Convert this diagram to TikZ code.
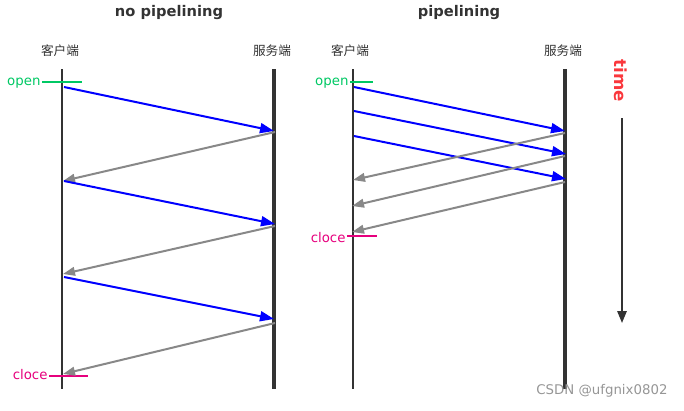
\documentclass[tikz,border=0pt]{standalone}
\usepackage{fontspec}
\setmainfont{DejaVu Sans}
\newfontfamily\cjk{Noto Sans CJK SC}
\usepackage{tikz}
\usetikzlibrary{arrows.meta, calc}
\usepackage{xcolor}
\definecolor{lifegray}{RGB}{51,51,51}
\definecolor{reqblue}{RGB}{0,0,255}
\definecolor{respgray}{RGB}{136,136,136}
\definecolor{opengreen}{RGB}{0,200,100}
\definecolor{closepink}{RGB}{230,0,125}
\definecolor{timered}{RGB}{250,55,60}
\definecolor{markgray}{RGB}{150,150,150}
\tikzset{every picture/.style={line width=0.75pt}}
\tikzset{
  title/.style={text=lifegray, font=\fontsize{11}{13}\selectfont\bfseries, inner sep=0.75pt},
  side/.style={text=lifegray, font=\fontsize{9.5}{11}\selectfont\cjk, inner sep=0.75pt},
  lifeline/.style={draw=lifegray, line width=1.9pt},
  serverline/.style={draw=lifegray, line width=2.6pt},
  req/.style={draw=reqblue, line width=1.5pt, -{Triangle[length=10.5pt, width=7.5pt]}},
  resp/.style={draw=respgray, line width=1.5pt, -{Triangle[length=9pt, width=6.5pt]}},
  openmark/.style={text=opengreen, font=\fontsize{10}{12}\selectfont, inner sep=0.75pt},
  closemark/.style={text=closepink, font=\fontsize{10}{12}\selectfont, inner sep=0.75pt},
}

\begin{document}
\begin{tikzpicture}[x=0.75pt,y=0.75pt,yscale=-1,xscale=1]
\path[use as bounding box] (0,0) rectangle (684,410);
% Titles
\node[title] (tnp) at (169,13) {no pipelining};
\node[title] (tp) at (459,13) {pipelining};
% Side labels
\node[side] (lc) at (60,51) {客户端};
\node[side] (ls) at (272,51) {服务端};
\node[side] (rc) at (350,51) {客户端};
\node[side] (rs) at (563,51) {服务端};
% Lifelines
\coordinate (lc top) at (62,69);   \coordinate (lc bot) at (62,389);
\coordinate (ls top) at (274,69);  \coordinate (ls bot) at (274,389);
\coordinate (rc top) at (353,69);  \coordinate (rc bot) at (353,389);
\coordinate (rs top) at (565,69);  \coordinate (rs bot) at (565,389);
\draw[lifeline] (lc top) -- (lc bot);
\draw[serverline] (ls top) -- (ls bot);
\draw[lifeline] (rc top) -- (rc bot);
\draw[serverline] (rs top) -- (rs bot);
% open / cloce
\node[openmark, anchor=east] (lopen) at (42,83) {open};
\coordinate (lopen end) at (82,81.5);
\draw[opengreen, line width=1.5pt] (lopen.east |- lopen end) -- (lopen end);
\node[openmark, anchor=east] (ropen) at (350,83) {open};
\coordinate (ropen end) at (373,81.5);
\draw[opengreen, line width=1.5pt] (ropen.east |- ropen end) -- (ropen end);
\node[closemark, anchor=east] (lclose) at (49,375) {cloce};
\coordinate (lclose end) at (88,376);
\draw[closepink, line width=1.5pt] (lclose.east |- lclose end) -- (lclose end);
\node[closemark, anchor=east] (rclose) at (347,238) {cloce};
\coordinate (rclose end) at (377,236);
\draw[closepink, line width=1.5pt] (rclose.east |- rclose end) -- (rclose end);
% no pipelining messages
\coordinate (a1) at (64,87);   \coordinate (b1) at (274,131);
\coordinate (b2) at (275,132); \coordinate (a2) at (63,181);
\coordinate (a3) at (64,181);  \coordinate (b3) at (275,224);
\coordinate (b4) at (275,226); \coordinate (a4) at (63,274);
\coordinate (a5) at (64,277);  \coordinate (b5) at (274,319);
\coordinate (b6) at (275,323); \coordinate (a6) at (63,374);
\draw[req] (a1) -- (b1);
\draw[resp] (b2) -- (a2);
\draw[req] (a3) -- (b3);
\draw[resp] (b4) -- (a4);
\draw[req] (a5) -- (b5);
\draw[resp] (b6) -- (a6);
% pipelining messages
\coordinate (c1) at (354,87);  \coordinate (d1) at (565,131);
\coordinate (c2) at (354,111); \coordinate (d2) at (566,154);
\coordinate (c3) at (354,136); \coordinate (d3) at (566,179);
\coordinate (d4) at (565,133); \coordinate (c4) at (353,180);
\coordinate (d5) at (565,156); \coordinate (c5) at (352,206);
\coordinate (d6) at (565,182); \coordinate (c6) at (352,232);
\draw[req] (c1) -- (d1);
\draw[req] (c2) -- (d2);
\draw[req] (c3) -- (d3);
\draw[resp] (d4) -- (c4);
\draw[resp] (d5) -- (c5);
\draw[resp] (d6) -- (c6);
% time
\node[text=timered, font=\fontsize{12.5}{14}\selectfont\bfseries, rotate=-90, inner sep=0.75pt] (time) at (621,81) {time};
\coordinate (time top) at (622,118);
\coordinate (time bot) at (622,323);
\draw[lifegray, line width=1.5pt, -{Triangle[length=9pt, width=7pt]}] (time top) -- (time bot);
% watermark
\node[text=markgray, font=\fontsize{10}{12}\selectfont, anchor=east, inner sep=0.75pt] (mark) at (669,391) {CSDN @ufgnix0802};
\end{tikzpicture}
\end{document}
